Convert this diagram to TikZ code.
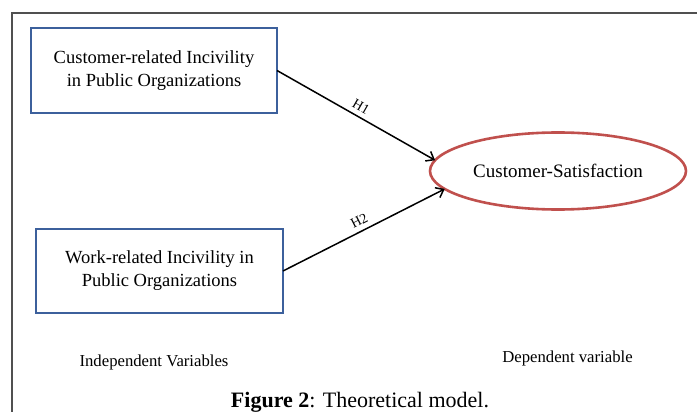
\documentclass[tikz,border=0pt]{standalone}
\usepackage{fontspec}
\setmainfont{Liberation Serif}
\usetikzlibrary{shapes.geometric,arrows.meta}
\definecolor{boxblue}{RGB}{60,96,156}
\definecolor{ellred}{RGB}{192,80,77}
\definecolor{framegray}{RGB}{80,80,80}
\tikzset{
  varbox/.style={draw=boxblue, line width=2.6pt, rectangle, inner sep=0pt, outer sep=0pt,
    align=center, font=\fontsize{18.5}{23}\selectfont},
  depell/.style={draw=ellred, line width=2.6pt, ellipse, inner sep=0pt, outer sep=0pt,
    minimum width=256pt, minimum height=77pt, font=\fontsize{19}{23}\selectfont},
  link/.style={line width=1.5pt, -{Straight Barb[length=7pt,width=11pt,line width=1.5pt]}},
  hlab/.style={font=\fontsize{14}{16}\selectfont, sloped, above, inner sep=2pt, yshift=3pt},
  plainlab/.style={font=\fontsize{16.7}{20}\selectfont, inner sep=0pt},
  framelines/.style={draw=framegray, line width=2pt}
}
\begin{document}
\begin{tikzpicture}[x=1pt, y=-1pt]
\useasboundingbox (0,0) rectangle (697,412);
\coordinate (ftr) at (697,13);
\coordinate (ftl) at (12,13);
\coordinate (fbl) at (12,412);
\draw[framelines] (ftr) -- (ftl) -- (fbl);

\node[varbox, minimum width=246pt, minimum height=85pt] (cri) at (154,70.5)
  {Customer-related Incivility\\in Public Organizations};
\node[varbox, minimum width=247pt, minimum height=84pt] (wri) at (159.5,271)
  {Work-related Incivility in\\ Public Organizations};
\node[depell] (cs) at (558,171) {Customer-Satisfaction};

\draw[link] (cri.east) -- node[hlab] {H1} (cs.175);
\draw[link] (wri.east) -- node[hlab] {H2} (cs.189);

\node[plainlab] (iv) at (154,362) {Independent Variables};
\node[plainlab] (dv) at (567.5,358) {Dependent variable};
\node[anchor=base, inner sep=0pt, font=\fontsize{22}{26}\selectfont] (cap) at (360,407)
  {\textbf{Figure 2}: Theoretical model.};
\end{tikzpicture}
\end{document}
